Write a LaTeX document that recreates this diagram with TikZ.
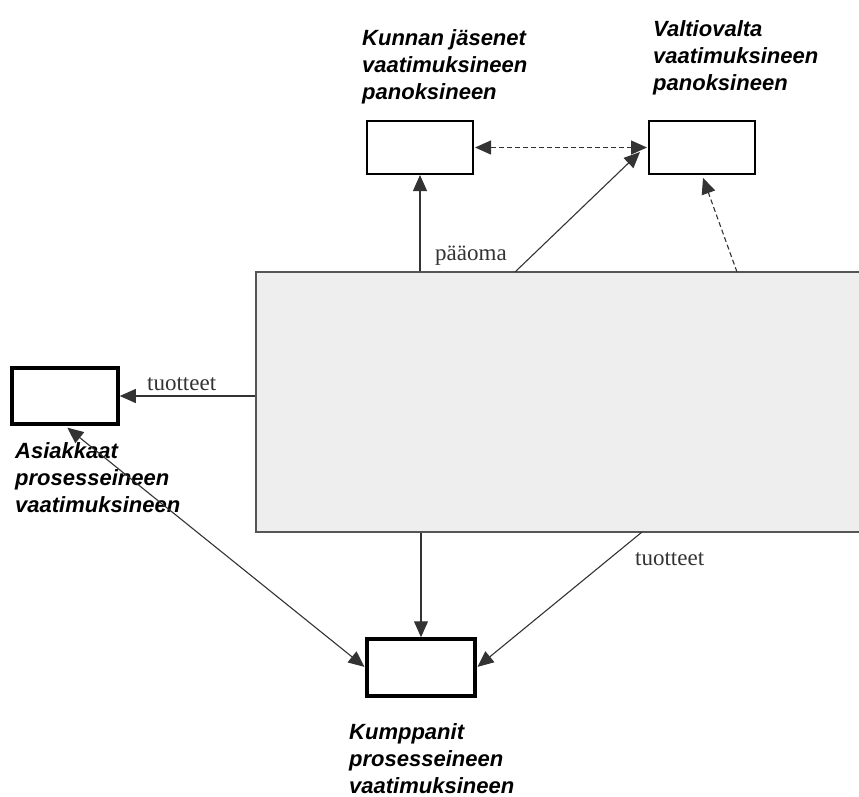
\documentclass[tikz,border=0pt]{standalone}
\usepackage{fontspec}
\setmainfont{Liberation Serif}
\setsansfont{Liberation Sans}
\usetikzlibrary{arrows.meta}
\definecolor{ink}{HTML}{333333}
\definecolor{panel}{HTML}{EEEEEE}
\definecolor{rim}{HTML}{555555}
\tikzset{
  party/.style={draw=black, fill=white, line width=2pt, minimum width=106pt,
    minimum height=53pt, inner sep=0pt},
  keyparty/.style={party, line width=3.5pt, minimum height=56pt},
  tip/.style={Triangle[length=16pt,width=14pt]},
  flow/.style={draw=ink, line width=1.1pt, -{Triangle[length=16pt,width=14pt]}},
  twoway/.style={draw=ink, line width=1.1pt,
    {Triangle[length=16pt,width=14pt]}-{Triangle[length=16pt,width=14pt]}},
  hint/.style={dash pattern=on 5pt off 3pt},
  caption/.style={font=\sffamily\bfseries\itshape\fontsize{22}{26.7}\selectfont,
    align=left, anchor=base west, inner sep=0pt, text=black},
  flowlabel/.style={font=\fontsize{23}{26}\selectfont, text=ink,
    anchor=base west, inner sep=0pt}
}
\begin{document}
\begin{tikzpicture}[x=1pt,y=-1pt]
\useasboundingbox (0,0) rectangle (859,796);
\clip (0,0) rectangle (859,796);

% the organisation in the middle, running off the right edge
\node[draw=rim, fill=panel, line width=1.2pt, minimum width=614pt,
  minimum height=260pt, inner sep=0pt] (core) at (563,402) {};

% stakeholder boxes
\node[party] (kunta) at (420,147.5) {};
\node[party] (valtio) at (702,147.5) {};
\node[keyparty] (asiakas) at (65,396) {};
\node[keyparty, minimum width=108pt, minimum height=57pt] (kumppani) at (421,667.5) {};

% stakeholder captions (anchored at the baseline of their last line)
\node[caption] (kuntateksti) at (362,99) {Kunnan jäsenet\\vaatimuksineen\\panoksineen};
\node[caption] (valtioteksti) at (653,90) {Valtiovalta\\vaatimuksineen\\panoksineen};
\node[caption] (asiakasteksti) at (15,512) {Asiakkaat\\prosesseineen\\vaatimuksineen};
\node[caption] (kumppaniteksti) at (349,793) {Kumppanit\\prosesseineen\\vaatimuksineen};

% anchor points on the organisation's edges
\coordinate (outA) at (515,272);
\coordinate (outB) at (737,272);
\coordinate (outC) at (642,532);
\coordinate (intoV) at (640,152);

% flows
\draw[flow] (kunta.south |- core.north) -- (kunta.south);
\draw[flow] (outA) -- (intoV);
\draw[flow, hint, shorten >=3pt] (outB) -- (valtio.south);
\draw[twoway, hint, shorten <=1pt, shorten >=1pt] (kunta.east) -- (valtio.west);
\draw[flow] (core.west |- asiakas.east) -- (asiakas.east);
\draw[flow] (kumppani.north |- core.south) -- (kumppani.north);
\draw[flow, shorten >=1pt] (outC) -- (kumppani.east);
\draw[twoway, shorten <=3pt, shorten >=1pt] (asiakas.south) -- (kumppani.west);

% flow labels
\node[flowlabel] (paaoma) at (435,260) {pääoma};
\node[flowlabel] (tuotteetA) at (147,390) {tuotteet};
\node[flowlabel] (tuotteetB) at (635,565) {tuotteet};
\end{tikzpicture}
\end{document}
